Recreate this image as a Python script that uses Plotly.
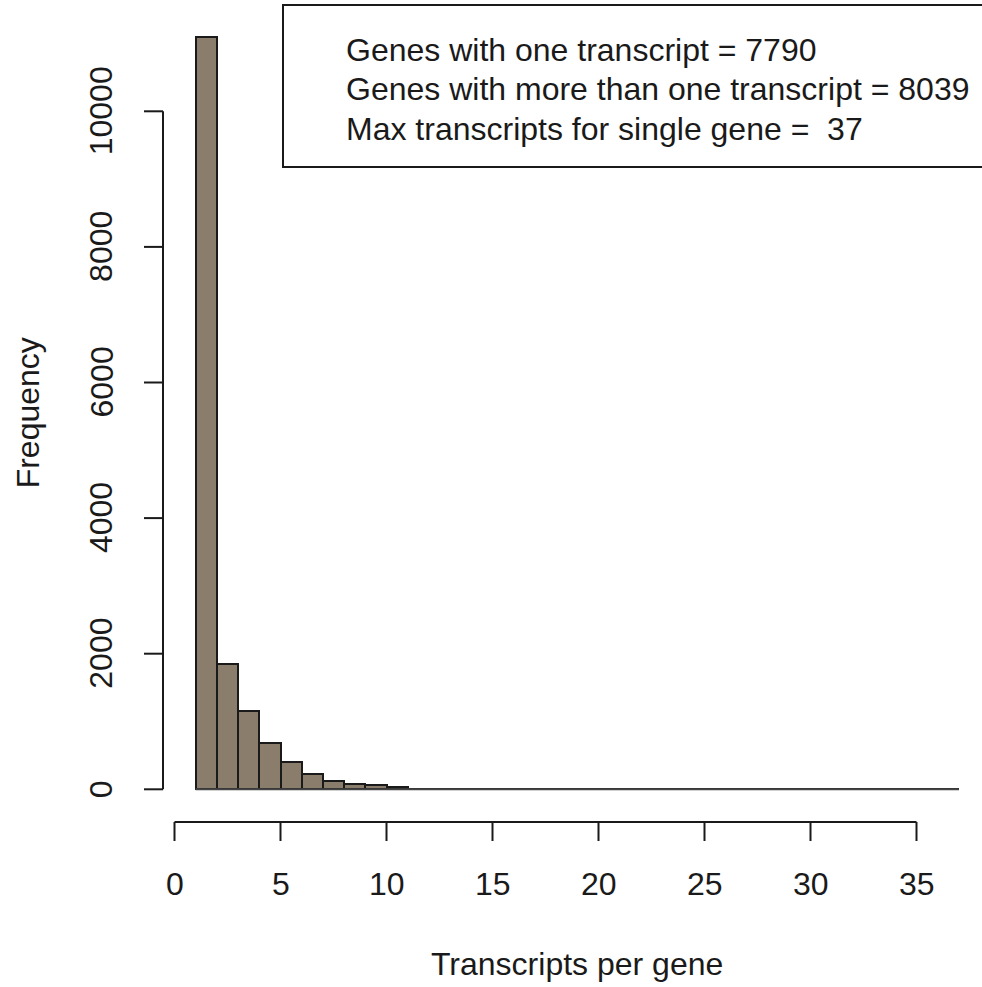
import plotly.graph_objects as go

# Histogram of transcripts per gene (bins of width 1 from 1 to 37)
bin_edges = list(range(1, 38))
counts = [11090, 1850, 1150, 680, 400, 220, 125, 85, 60, 35,
          8, 6, 5, 4, 3, 3, 2, 2, 2, 1, 1, 1, 1, 1, 1, 1, 1,
          0, 1, 0, 1, 0, 0, 1, 0, 0]
x_ticks = [0, 5, 10, 15, 20, 25, 30, 35]
y_ticks = [0, 2000, 4000, 6000, 8000, 10000]
legend_lines = [
    "Genes with one transcript = 7790",
    "Genes with more than one transcript = 8039",
    "Max transcripts for single gene =  37",
]
x_title = "Transcripts per gene"
y_title = "Frequency"

W, H = 982, 987
# pixel calibration of the data scales
X0_PX, X_PER_UNIT = 174.5, 21.2
Y0_PX, Y_PER_UNIT = 789.3, 0.0678

def px_to_x(px):
    return (px - X0_PX) / X_PER_UNIT

def py_to_y(py):
    return (Y0_PX - py) / Y_PER_UNIT

def py_paper(py):
    return 1 - py / H

def px_paper(px):
    return px / W

FONT = "Liberation Sans, Arial, sans-serif"
FS = 32
INK = "#1a1a1a"

centers = [(a + b) / 2 for a, b in zip(bin_edges[:-1], bin_edges[1:])]
widths = [b - a for a, b in zip(bin_edges[:-1], bin_edges[1:])]

fig = go.Figure()
fig.add_trace(go.Bar(
    x=centers, y=counts, width=widths,
    marker=dict(color="#8B7D6B", line=dict(color=INK, width=2)),
    hoverinfo="x+y", showlegend=False,
))

shapes = []
annotations = []

# baseline under the zero-height bins
shapes.append(dict(type="line", xref="x", yref="y",
                   x0=bin_edges[0], x1=bin_edges[-1], y0=0, y1=0,
                   line=dict(color="#444444", width=2)))

# x axis (detached, R style)
xa_py, xt_py = 822, 841
shapes.append(dict(type="line", xref="x", yref="paper",
                   x0=x_ticks[0], x1=x_ticks[-1],
                   y0=py_paper(xa_py), y1=py_paper(xa_py),
                   line=dict(color=INK, width=2)))
for t in x_ticks:
    shapes.append(dict(type="line", xref="x", yref="paper",
                       x0=t, x1=t, y0=py_paper(xa_py), y1=py_paper(xt_py),
                       line=dict(color=INK, width=2)))
    annotations.append(dict(x=t, y=py_paper(884), xref="x", yref="paper",
                            text=str(t), showarrow=False,
                            xanchor="center", yanchor="middle",
                            font=dict(family=FONT, size=FS, color=INK)))

# y axis
ya_px, yt_px = 163, 144
shapes.append(dict(type="line", xref="paper", yref="y",
                   x0=px_paper(ya_px), x1=px_paper(ya_px),
                   y0=y_ticks[0], y1=y_ticks[-1],
                   line=dict(color=INK, width=2)))
for t in y_ticks:
    shapes.append(dict(type="line", xref="paper", yref="y",
                       x0=px_paper(ya_px), x1=px_paper(yt_px), y0=t, y1=t,
                       line=dict(color=INK, width=2)))
    annotations.append(dict(x=px_paper(101), y=t, xref="paper", yref="y",
                            text=str(t), showarrow=False, textangle=-90,
                            xanchor="center", yanchor="middle",
                            font=dict(family=FONT, size=FS, color=INK)))

# axis titles
annotations.append(dict(x=(bin_edges[0] + bin_edges[-1]) / 2, y=py_paper(964),
                        xref="x", yref="paper", text=x_title, showarrow=False,
                        xanchor="center", yanchor="middle",
                        font=dict(family=FONT, size=FS, color=INK)))
annotations.append(dict(x=px_paper(28), y=max(counts) / 2,
                        xref="paper", yref="y", text=y_title, showarrow=False,
                        textangle=-90, xanchor="center", yanchor="middle",
                        font=dict(family=FONT, size=FS, color=INK)))

# legend box with summary text
shapes.append(dict(type="rect", xref="paper", yref="paper",
                   x0=px_paper(283), x1=px_paper(1000),
                   y0=py_paper(5), y1=py_paper(167),
                   line=dict(color=INK, width=2), fillcolor="white"))
for i, line in enumerate(legend_lines):
    annotations.append(dict(x=px_paper(344), y=py_paper(50 + 39.5 * i),
                            xref="paper", yref="paper", text=line,
                            showarrow=False, xanchor="left", yanchor="middle",
                            font=dict(family=FONT, size=FS, color=INK)))

fig.update_layout(
    width=W, height=H,
    margin=dict(l=0, r=0, t=0, b=0),
    paper_bgcolor="white", plot_bgcolor="white",
    xaxis=dict(range=[px_to_x(0), px_to_x(W)], visible=False, fixedrange=True),
    yaxis=dict(range=[py_to_y(H), py_to_y(0)], visible=False, fixedrange=True),
    shapes=shapes, annotations=annotations,
    bargap=0,
)

fig.write_html("out.html")
